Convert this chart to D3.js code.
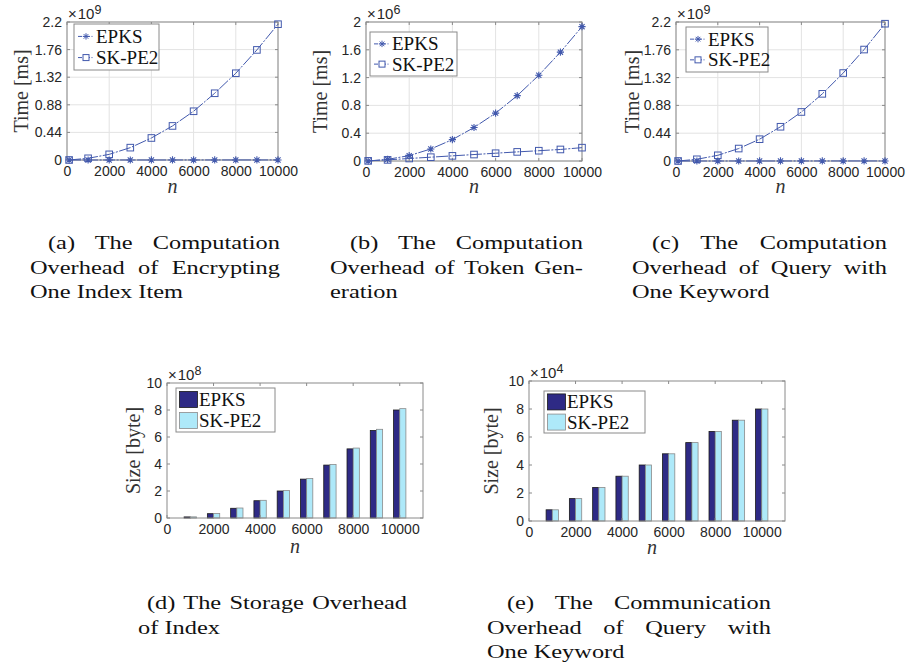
<!DOCTYPE html>
<html>
<head>
<meta charset="utf-8">
<script src="https://cdn.jsdelivr.net/npm/d3@7/dist/d3.min.js"></script>
<style>
  body { margin: 0; background: #fff; }
  #wrap { position: relative; width: 907px; height: 670px; overflow: hidden; background: #fff; }
  svg { position: absolute; left: 0; top: 0; }
  .cap { position: absolute; font-family: "Liberation Serif", "DejaVu Serif", serif; font-size: 19.5px; line-height: 24.5px; color: #111; transform-origin: 0 0; }
  .cap .j { text-align: justify; text-align-last: justify; }
  .tick-lbl { font-family: "Liberation Sans", Arial, sans-serif; font-size: 14px; fill: #262626; }
  .ax-lbl { font-family: "Liberation Serif", "DejaVu Serif", serif; font-size: 20px; fill: #333; }
  .leg-lbl { font-family: "Liberation Serif", "DejaVu Serif", serif; font-size: 19px; fill: #111; }
</style>
</head>
<body>
<div id="wrap"></div>
<script>
// n values for the line charts (a, b, c)
const nLine = [100, 1000, 2000, 3000, 4000, 5000, 6000, 7000, 8000, 9000, 10000];
// n values for the bar charts (d, e)
const nBar = [1000, 2000, 3000, 4000, 5000, 6000, 7000, 8000, 9000, 10000];
const seriesNames = ['EPKS', 'SK-PE2'];
const xTicks = [0, 2000, 4000, 6000, 8000, 10000];

// (a) encrypting one index item, x10^9 ms
const aEPKS = [0.0000, 0.0001, 0.0002, 0.0003, 0.0004, 0.0005, 0.0006, 0.0007, 0.0008, 0.0009, 0.0010];
const aSKPE2 = [0.0002, 0.027, 0.090, 0.197, 0.351, 0.543, 0.777, 1.064, 1.383, 1.755, 2.165];
const aYTicks = [0, 0.44, 0.88, 1.32, 1.76, 2.2];

// (b) token generation, x10^6 ms
const bEPKS = [0.0002, 0.024, 0.077, 0.173, 0.308, 0.482, 0.689, 0.940, 1.234, 1.566, 1.933];
const bSKPE2 = [0.002, 0.016, 0.036, 0.055, 0.074, 0.093, 0.112, 0.131, 0.148, 0.166, 0.192];
const bYTicks = [0, 0.4, 0.8, 1.2, 1.6, 2];

// (c) query with one keyword, x10^9 ms
const cEPKS = [0.0000, 0.0001, 0.0002, 0.0003, 0.0004, 0.0005, 0.0006, 0.0007, 0.0008, 0.0009, 0.0010];
const cSKPE2 = [0.0002, 0.027, 0.090, 0.197, 0.345, 0.542, 0.776, 1.063, 1.392, 1.764, 2.173];
const cYTicks = [0, 0.44, 0.88, 1.32, 1.76, 2.2];

// (d) storage overhead of index, x10^8 byte
const dEPKS = [0.08, 0.32, 0.72, 1.28, 2.00, 2.88, 3.92, 5.12, 6.48, 8.00];
const dSKPE2 = [0.085, 0.33, 0.74, 1.31, 2.03, 2.92, 3.97, 5.18, 6.57, 8.10];
// (e) communication overhead of query, x10^4 byte
const eEPKS = [0.8, 1.6, 2.4, 3.2, 4.0, 4.8, 5.6, 6.4, 7.2, 8.0];
const eSKPE2 = [0.8, 1.6, 2.4, 3.2, 4.0, 4.8, 5.6, 6.4, 7.2, 8.0];
const barYTicks = [0, 2, 4, 6, 8, 10];

const captions = [
  { x: 30, y: 231, w: 250, lines: ['(a) The Computation', 'Overhead of Encrypting', 'One Index Item'], indent: 18 },
  { x: 330, y: 231, w: 253, lines: ['(b) The Computation', 'Overhead of Token Gen-', 'eration'], indent: 20 },
  { x: 632, y: 231, w: 255, lines: ['(c) The Computation', 'Overhead of Query with', 'One Keyword'], indent: 20 },
  { x: 138, y: 591, w: 269, lines: ['(d) The Storage Overhead', 'of Index'], indent: 9 },
  { x: 487, y: 591, w: 284, lines: ['(e) The Communication', 'Overhead of Query with', 'One Keyword'], indent: 20 }
];
const capStretch = 1.25;

const lineColor = '#4259ad';
const gridColor = '#e3e3e3';
const boxColor = '#8a8a8a';
const barColors = ['#2e2a85', '#aee9f9'];
const barEdges = ['#1a1a1a', '#8a8a8a'];

const wrap = d3.select('#wrap');
const svg = wrap.append('svg').attr('width', 907).attr('height', 670);

function asteriskPath(r) {
  const d = r * 0.72;
  return `M${-r},0L${r},0M0,${-r}L0,${r}M${-d},${-d}L${d},${d}M${-d},${d}L${d},${-d}`;
}

function drawFrame(g, x, y, xTickVals, yTickVals, yFmt, opts) {
  const [x0, x1] = x.range();
  const [y0, y1] = y.range();

  if (opts.grid) {
    g.append('g').selectAll('line').data(xTickVals).enter().append('line')
      .attr('x1', d => x(d)).attr('x2', d => x(d)).attr('y1', y0).attr('y2', y1)
      .attr('stroke', gridColor).attr('stroke-width', 1);
    g.append('g').selectAll('line').data(yTickVals).enter().append('line')
      .attr('x1', x0).attr('x2', x1).attr('y1', d => y(d)).attr('y2', d => y(d))
      .attr('stroke', gridColor).attr('stroke-width', 1);
  }

  // x axis labels
  const xa = g.append('g').attr('transform', `translate(0,${y0})`)
    .call(d3.axisBottom(x).tickValues(xTickVals).tickSize(0).tickPadding(6).tickFormat(d3.format('d')));
  xa.select('.domain').remove();
  xa.attr('font-family', null).attr('font-size', null);
  xa.selectAll('text').attr('class', 'tick-lbl').attr('fill', null);

  // y axis labels
  const ya = g.append('g').attr('transform', `translate(${x0},0)`)
    .call(d3.axisLeft(y).tickValues(yTickVals).tickSize(0).tickPadding(5).tickFormat(yFmt));
  ya.select('.domain').remove();
  ya.attr('font-family', null).attr('font-size', null);
  ya.selectAll('text').attr('class', 'tick-lbl').attr('fill', null);
}

function drawBox(g, x, y, xTickVals, yTickVals) {
  const [x0, x1] = x.range();
  const [y0, y1] = y.range();
  const t = 3;
  const ticks = g.append('g').attr('stroke', boxColor).attr('stroke-width', 1);
  xTickVals.forEach(v => {
    ticks.append('line').attr('x1', x(v)).attr('x2', x(v)).attr('y1', y0).attr('y2', y0 - t);
    ticks.append('line').attr('x1', x(v)).attr('x2', x(v)).attr('y1', y1).attr('y2', y1 + t);
  });
  yTickVals.forEach(v => {
    ticks.append('line').attr('x1', x0).attr('x2', x0 + t).attr('y1', y(v)).attr('y2', y(v));
    ticks.append('line').attr('x1', x1).attr('x2', x1 - t).attr('y1', y(v)).attr('y2', y(v));
  });
  g.append('rect').attr('x', x0).attr('y', y1).attr('width', x1 - x0).attr('height', y0 - y1)
    .attr('fill', 'none').attr('stroke', boxColor).attr('stroke-width', 1);
}

function drawLabels(g, x, y, cfg) {
  const [x0, x1] = x.range();
  const [y0, y1] = y.range();
  g.append('text').attr('class', 'ax-lbl')
    .attr('transform', `translate(${cfg.yLabelX},${(y0 + y1) / 2}) rotate(-90)`)
    .attr('text-anchor', 'middle').attr('dominant-baseline', 'central')
    .text(cfg.yLabel);
  g.append('text').attr('class', 'ax-lbl')
    .attr('x', cfg.nLabelX != null ? cfg.nLabelX : (x0 + x1) / 2).attr('y', cfg.nLabelY)
    .attr('text-anchor', 'middle').attr('font-style', 'italic')
    .text('n');
  // exponent above the y axis
  const ex = g.append('text').attr('class', 'tick-lbl').attr('x', x0 + 1).attr('y', y1 - 3)
    .style('font-size', '15px');
  ex.append('tspan').text('\u00d7');
  ex.append('tspan').attr('dx', 1).text('10');
  ex.append('tspan').attr('dy', -5).style('font-size', '12.5px').text(cfg.exp);
}

function linePanel(cfg) {
  const g = svg.append('g');
  const x = d3.scaleLinear().domain([0, 10000]).range([cfg.left, cfg.right]);
  const y = d3.scaleLinear().domain([0, cfg.yTicks[cfg.yTicks.length - 1]]).range([cfg.bottom, cfg.top]);
  drawFrame(g, x, y, xTicks, cfg.yTicks, d => String(d), { grid: true });
  drawBox(g, x, y, xTicks, cfg.yTicks);

  const line = d3.line().x(d => x(d[0])).y(d => y(d[1]));
  cfg.series.forEach((vals, si) => {
    const pts = nLine.map((n, i) => [n, vals[i]]);
    g.append('path').datum(pts).attr('d', line)
      .attr('fill', 'none').attr('stroke', lineColor).attr('stroke-width', 1)
      .attr('stroke-dasharray', '12,1.5,2,1.5');
    const m = g.append('g').selectAll('g').data(pts).enter().append('g')
      .attr('transform', d => `translate(${x(d[0])},${y(d[1])})`);
    if (si === 0) {
      m.append('path').attr('d', asteriskPath(3.6)).attr('stroke', lineColor).attr('stroke-width', 1.1).attr('fill', 'none');
    } else {
      m.append('rect').attr('x', -3.3).attr('y', -3.3).attr('width', 6.6).attr('height', 6.6)
        .attr('fill', 'none').attr('stroke', lineColor).attr('stroke-width', 1);
    }
  });

  // legend
  const L = cfg.legend;
  const lg = g.append('g').attr('transform', `translate(${L.x},${L.y})`);
  lg.append('rect').attr('width', L.w).attr('height', L.h).attr('fill', '#fff').attr('stroke', boxColor).attr('stroke-width', 1);
  seriesNames.forEach((name, i) => {
    const cy = L.h * (i === 0 ? 0.27 : 0.73);
    lg.append('line').attr('x1', 4).attr('x2', 20).attr('y1', cy).attr('y2', cy)
      .attr('stroke', lineColor).attr('stroke-width', 1).attr('stroke-dasharray', '4,1.5,1,1.5');
    if (i === 0) {
      lg.append('path').attr('transform', `translate(12,${cy})`).attr('d', asteriskPath(3.2))
        .attr('stroke', lineColor).attr('fill', 'none');
    } else {
      lg.append('rect').attr('x', 9).attr('y', cy - 3).attr('width', 6).attr('height', 6)
        .attr('fill', '#fff').attr('stroke', lineColor);
    }
    lg.append('text').attr('class', 'leg-lbl').attr('x', 22).attr('y', cy)
      .attr('dominant-baseline', 'central').text(name);
  });

  drawLabels(g, x, y, cfg);
}

function barPanel(cfg) {
  const g = svg.append('g');
  const x = d3.scaleLinear().domain([0, 11000]).range([cfg.left, cfg.right]);
  const y = d3.scaleLinear().domain([0, 10]).range([cfg.bottom, cfg.top]);
  drawFrame(g, x, y, xTicks, barYTicks, d => String(d), { grid: false });

  const bw = 265;
  cfg.series.forEach((vals, si) => {
    g.append('g').selectAll('rect').data(nBar.map((n, i) => [n, vals[i]])).enter().append('rect')
      .attr('x', d => si === 0 ? x(d[0] - bw) : x(d[0]))
      .attr('width', x(bw) - x(0))
      .attr('y', d => y(d[1]))
      .attr('height', d => y(0) - y(d[1]))
      .attr('fill', barColors[si]).attr('stroke', barEdges[si]).attr('stroke-width', 0.8);
  });
  drawBox(g, x, y, xTicks, barYTicks);

  const L = cfg.legend;
  const lg = g.append('g').attr('transform', `translate(${L.x},${L.y})`);
  lg.append('rect').attr('width', L.w).attr('height', L.h).attr('fill', '#fff').attr('stroke', boxColor).attr('stroke-width', 1);
  seriesNames.forEach((name, i) => {
    const cy = L.h * (i === 0 ? 0.26 : 0.74);
    lg.append('rect').attr('x', 3.5).attr('y', cy - 8).attr('width', 18).attr('height', 16)
      .attr('fill', barColors[i]).attr('stroke', barEdges[i]).attr('stroke-width', 0.8);
    lg.append('text').attr('class', 'leg-lbl').attr('x', 23).attr('y', cy)
      .attr('dominant-baseline', 'central').text(name);
  });

  drawLabels(g, x, y, cfg);
}

linePanel({ left: 67, right: 278, top: 22, bottom: 160, yTicks: aYTicks, series: [aEPKS, aSKPE2],
  legend: { x: 74, y: 24, w: 85, h: 46 }, yLabel: 'Time [ms]', yLabelX: 21, nLabelY: 193, exp: '9' });
linePanel({ left: 366, right: 582, top: 22, bottom: 161, yTicks: bYTicks, series: [bEPKS, bSKPE2],
  legend: { x: 370, y: 32, w: 87, h: 44 }, yLabel: 'Time [ms]', yLabelX: 320, nLabelY: 193, exp: '6' });
linePanel({ left: 676, right: 885, top: 22, bottom: 161, yTicks: cYTicks, series: [cEPKS, cSKPE2],
  legend: { x: 686, y: 27, w: 82, h: 45 }, yLabel: 'Time [ms]', yLabelX: 632, nLabelY: 193, exp: '9' });

barPanel({ left: 167, right: 423, top: 383, bottom: 518, series: [dEPKS, dSKPE2],
  legend: { x: 176, y: 388, w: 99, h: 44 }, yLabel: 'Size [byte]', yLabelX: 133, nLabelY: 553, exp: '8' });
barPanel({ left: 529, right: 785, top: 381, bottom: 521, series: [eEPKS, eSKPE2],
  legend: { x: 544, y: 391, w: 101, h: 42 }, yLabel: 'Size [byte]', yLabelX: 491, nLabelY: 554, nLabelX: 652, exp: '4' });

// sub-figure captions, stretched horizontally to match the wide caption face
captions.forEach(c => {
  const box = wrap.append('div').attr('class', 'cap')
    .style('left', c.x + 'px').style('top', c.y + 'px')
    .style('width', (c.w / capStretch) + 'px')
    .style('transform', `scaleX(${capStretch})`);
  c.lines.forEach((t, i) => {
    const last = i === c.lines.length - 1;
    box.append('div').attr('class', last && c.lines.length > 1 ? null : 'j')
      .style('padding-left', i === 0 ? (c.indent / capStretch) + 'px' : '0px')
      .text(t);
  });
});
</script>
</body>
</html>
